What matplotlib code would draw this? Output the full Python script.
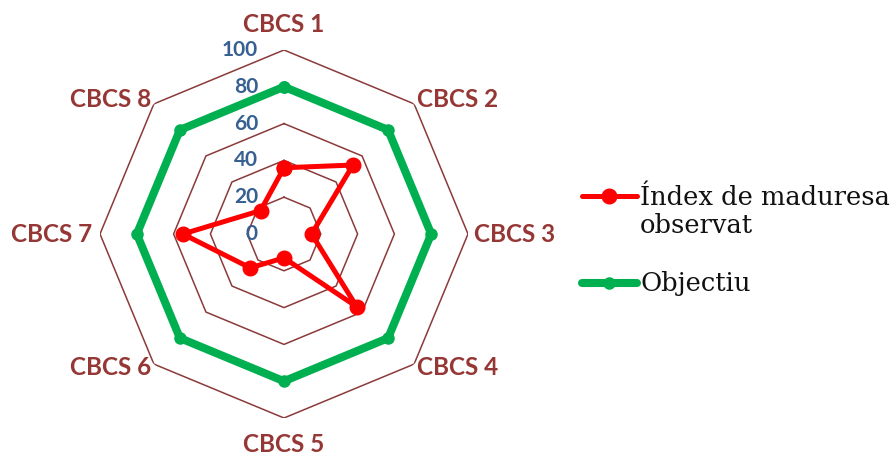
import numpy as np
import matplotlib
matplotlib.use("Agg")
import matplotlib.pyplot as plt
from matplotlib.lines import Line2D

categories = ["CBCS 1", "CBCS 2", "CBCS 3", "CBCS 4", "CBCS 5", "CBCS 6", "CBCS 7", "CBCS 8"]
observed = [36, 53, 15, 56, 13, 26, 55, 18]
target = [80, 80, 80, 80, 80, 80, 80, 80]
rings = [20, 40, 60, 80, 100]
ring_labels = ["0", "20", "40", "60", "80", "100"]
series_names = ["Índex de maduresa\nobservat", "Objectiu"]

W, H = 893, 455
fig = plt.figure(figsize=(W / 100, H / 100), dpi=100)
cx, cy, R = 284, 234, 184
ax = fig.add_axes([(cx - R) / W, 1 - (cy + R) / H, 2 * R / W, 2 * R / H], projection="polar")
ax.set_theta_offset(np.pi / 2)
ax.set_theta_direction(-1)
ax.set_ylim(0, 100)
ax.grid(False)
ax.spines["polar"].set_visible(False)
ax.set_xticks([])
ax.set_yticks([])
ax.patch.set_alpha(0)

n = len(categories)
theta = np.arange(n) * 2 * np.pi / n
theta_c = np.append(theta, theta[0])

grid_col = "#8B3A3A"
for r in rings:
    ax.plot(theta_c, [r] * (n + 1), color=grid_col, lw=1.1, zorder=1)

obs_c = observed + observed[:1]
tgt_c = target + target[:1]
ax.plot(theta_c, tgt_c, color="#00B050", lw=5.8, marker="o", markersize=8, zorder=3)
ax.plot(theta_c, obs_c, color="#FF0000", lw=3.6, marker="o", markersize=10.5, zorder=4)

px = 0.72
for i, lab in enumerate(ring_labels):
    v = i * 20
    ax.annotate(lab, xy=(0, v), xytext=(-26 * px, 0), textcoords="offset points",
                ha="right", va="center", fontsize=15, fontweight="bold",
                color="#376092", family=["Lato", "DejaVu Sans"], zorder=5)

cat_col = "#953735"
offsets = [(0, 26, "center"), (3, 4, "left"), (6, 0, "left"), (3, -3, "left"),
           (0, -26, "center"), (-3, -3, "right"), (-8, 0, "right"), (-3, 4, "right")]
for t, lab, (dx, dy, ha) in zip(theta, categories, offsets):
    ax.annotate(lab, xy=(t, 100), xytext=(dx * px, dy * px), textcoords="offset points",
                ha=ha, va="center", fontsize=17.5, fontweight="bold", color=cat_col,
                family=["Lato", "DejaVu Sans"], annotation_clip=False)

# legend
def fx(x):
    return x / W

def fy(y):
    return 1 - y / H

leg_items = [(196, 205, "#FF0000", 3.6, 10.5), (283, 291, "#00B050", 5.8, 8)]
for (y, base, col, lw, ms), name in zip(leg_items, series_names):
    fig.add_artist(Line2D([fx(582), fx(637)], [fy(y), fy(y)], color=col, lw=lw,
                          solid_capstyle="round", transform=fig.transFigure))
    fig.add_artist(Line2D([fx(609)], [fy(y)], color=col, marker="o", markersize=ms,
                          transform=fig.transFigure))
    for k, line in enumerate(name.split("\n")):
        fig.text(fx(640), fy(base + k * 28.5), line, ha="left", va="baseline",
                 fontsize=18.5, family=["DejaVu Serif"], color="#111111")

fig.savefig("out.png", dpi=100)
